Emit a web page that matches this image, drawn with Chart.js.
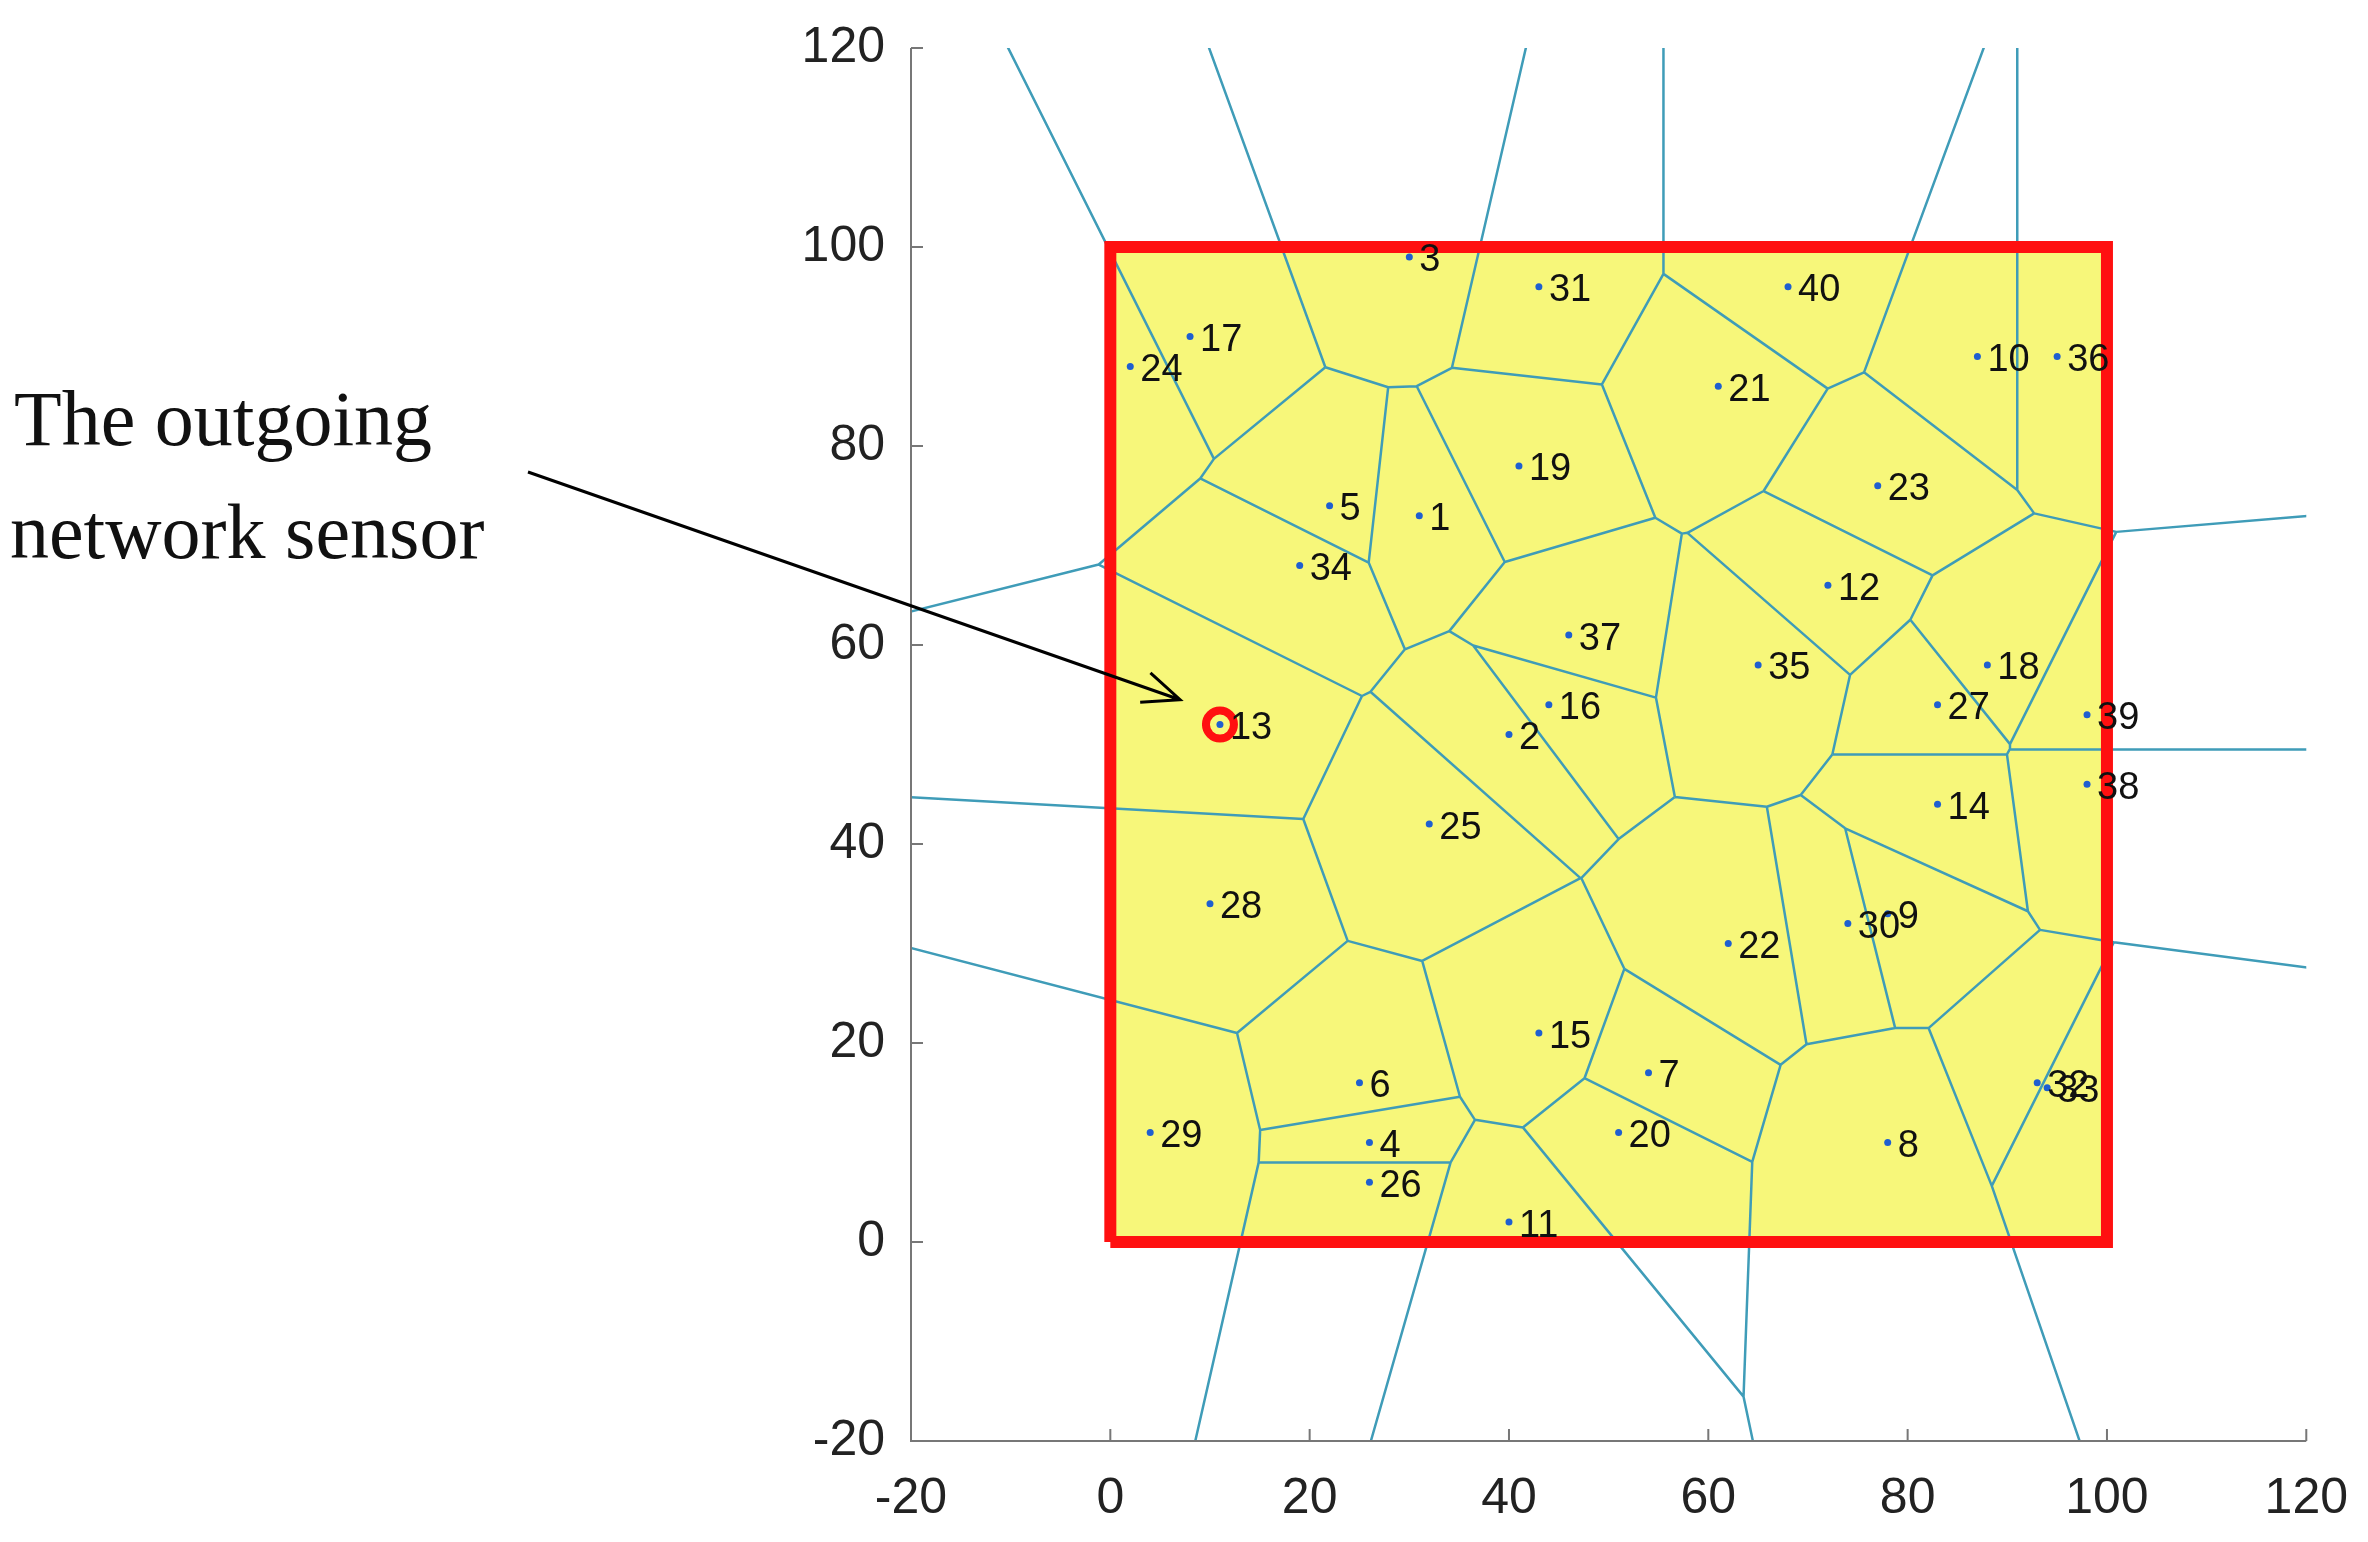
<!DOCTYPE html>
<html>
<head>
<meta charset="utf-8">
<script src="https://cdn.jsdelivr.net/npm/chart.js@4.4.1/dist/chart.umd.min.js"></script>
<style>
  html, body { margin: 0; padding: 0; background: #fff; }
  #wrap { width: 2368px; height: 1542px; }
</style>
</head>
<body>
<div id="wrap"><canvas id="chart" width="2368" height="1542"></canvas></div>
<script>
// Sensor ids and positions
const sensorIds = [1, 2, 3, 4, 5, 6, 7, 8, 9, 10, 11, 12, 13, 14, 15, 16, 17, 18, 19, 20,
                   21, 22, 23, 24, 25, 26, 27, 28, 29, 30, 31, 32, 33, 34, 35, 36, 37, 38, 39, 40];
const sensorX = [31, 40, 30, 26, 22, 25, 54, 78, 78, 87, 40, 72, 11, 83, 43, 44, 8, 88, 41, 51,
                 61, 62, 77, 2, 32, 26, 83, 10, 4, 74, 43, 93, 94, 19, 65, 95, 46, 98, 98, 68];
const sensorY = [73, 51, 99, 10, 74, 16, 17, 10, 33, 89, 2, 66, 52, 44, 21, 54, 91, 58, 78, 11,
                 86, 30, 76, 88, 42, 6, 54, 34, 11, 32, 96, 16, 15.5, 68, 58, 89, 61, 46, 53, 96];
const outgoingSensor = 13;

// Monitoring area and axes
const areaX = [0, 100, 100, 0, 0];
const areaY = [0, 0, 100, 100, 0];
const axisTicks = [-20, 0, 20, 40, 60, 80, 100, 120];

// Voronoi edges: clip a big box by the bisector half-planes of each site
function voronoiSegments() {
    const segs = [];
    const B = 1000;
    for (let i = 0; i < sensorX.length; i++) {
        // each vertex carries tag = neighbour index of the edge that starts at it
        let poly = [{ x: -B, y: -B, tag: -1 }, { x: B, y: -B, tag: -1 }, { x: B, y: B, tag: -1 }, { x: -B, y: B, tag: -1 }];
        for (let j = 0; j < sensorX.length; j++) {
            if (i === j) continue;
            const ax = sensorX[j] - sensorX[i], ay = sensorY[j] - sensorY[i];
            const c = (sensorX[j] ** 2 + sensorY[j] ** 2 - sensorX[i] ** 2 - sensorY[i] ** 2) / 2;
            const res = [];
            for (let k = 0; k < poly.length; k++) {
                const p = poly[k], q = poly[(k + 1) % poly.length];
                const dp = ax * p.x + ay * p.y - c, dq = ax * q.x + ay * q.y - c;
                if (dp <= 0) res.push(p);
                if ((dp < 0 && dq > 0) || (dp > 0 && dq < 0)) {
                    const t = dp / (dp - dq);
                    res.push({ x: p.x + t * (q.x - p.x), y: p.y + t * (q.y - p.y), tag: dp < 0 ? j : p.tag });
                }
            }
            poly = res;
        }
        for (let k = 0; k < poly.length; k++) {
            const p = poly[k], q = poly[(k + 1) % poly.length];
            if (p.tag > i) segs.push({ x: p.x, y: p.y }, { x: q.x, y: q.y }, { x: null, y: null });
        }
    }
    return segs;
}

const sensorPoints = sensorX.map((x, i) => ({ x: x, y: sensorY[i], id: sensorIds[i] }));
const areaPoints = areaX.map((x, i) => ({ x: x, y: areaY[i] }));
const outgoingPoint = sensorPoints.filter(p => p.id === outgoingSensor);

// Yellow fill of the monitoring area, inward ticks, labels, annotation arrow
const decorations = {
    id: 'decorations',
    beforeDatasetsDraw(chart) {
        const { ctx, scales: { x, y } } = chart;
        ctx.save();
        ctx.fillStyle = '#f7f77a';
        ctx.fillRect(x.getPixelForValue(0), y.getPixelForValue(100),
            x.getPixelForValue(100) - x.getPixelForValue(0), y.getPixelForValue(0) - y.getPixelForValue(100));
        ctx.restore();
    },
    afterDatasetsDraw(chart) {
        const { ctx, chartArea: a, scales: { x, y } } = chart;
        ctx.save();
        // axis lines and inward ticks
        ctx.strokeStyle = '#777';
        ctx.lineWidth = 2;
        ctx.beginPath();
        ctx.moveTo(a.left, a.top); ctx.lineTo(a.left, a.bottom); ctx.lineTo(a.right, a.bottom);
        axisTicks.forEach(v => {
            const px = x.getPixelForValue(v), py = y.getPixelForValue(v);
            ctx.moveTo(px, a.bottom); ctx.lineTo(px, a.bottom - 12);
            ctx.moveTo(a.left, py); ctx.lineTo(a.left + 12, py);
        });
        ctx.stroke();

        // sensor labels
        ctx.fillStyle = '#111';
        ctx.font = '38px "Liberation Sans", Arial, sans-serif';
        ctx.textBaseline = 'middle';
        sensorPoints.forEach(p => {
            ctx.fillText(String(p.id), x.getPixelForValue(p.x) + 10, y.getPixelForValue(p.y) + 4);
        });

        // annotation text and arrow
        ctx.font = '78px "Liberation Serif", "DejaVu Serif", serif';
        ctx.textBaseline = 'alphabetic';
        ctx.fillText('The outgoing', 14, 445);
        ctx.fillText('network sensor', 10, 558);
        const x0 = 528, y0 = 472;
        const x1 = x.getPixelForValue(7), y1 = y.getPixelForValue(54.5);
        ctx.strokeStyle = '#000';
        ctx.lineWidth = 3;
        ctx.beginPath();
        ctx.moveTo(x0, y0); ctx.lineTo(x1, y1);
        const ang = Math.atan2(y1 - y0, x1 - x0);
        ctx.moveTo(x1 - 40 * Math.cos(ang - 0.4), y1 - 40 * Math.sin(ang - 0.4));
        ctx.lineTo(x1, y1);
        ctx.lineTo(x1 - 40 * Math.cos(ang + 0.4), y1 - 40 * Math.sin(ang + 0.4));
        ctx.stroke();
        ctx.restore();
    }
};

new Chart(document.getElementById('chart'), {
    type: 'scatter',
    data: {
        datasets: [{
            label: 'Voronoi',
            data: voronoiSegments(),
            showLine: true,
            spanGaps: false,
            borderColor: '#3f9cb8',
            borderWidth: 2.5,
            pointRadius: 0,
            order: 3
        }, {
            label: 'Area',
            data: areaPoints,
            showLine: true,
            borderColor: '#ff1010',
            borderWidth: 12,
            pointRadius: 0,
            order: 2
        }, {
            label: 'Outgoing',
            data: outgoingPoint,
            pointRadius: 14,
            pointBorderWidth: 8,
            pointBorderColor: '#ff1010',
            pointBackgroundColor: 'rgba(0,0,0,0)',
            order: 1
        }, {
            label: 'Sensors',
            data: sensorPoints,
            pointRadius: 3.5,
            pointBackgroundColor: '#1f5fd0',
            pointBorderWidth: 0,
            order: 0
        }]
    },
    options: {
        responsive: false,
        animation: false,
        layout: { padding: { left: 761, top: 33, right: 56, bottom: 11 } },
        plugins: { legend: { display: false }, tooltip: { enabled: false } },
        scales: {
            x: {
                type: 'linear', min: -20, max: 120,
                afterBuildTicks: s => { s.ticks = axisTicks.map(v => ({ value: v })); },
                afterFit: s => { s.height = 90; },
                grid: { display: false },
                border: { display: false },
                ticks: { color: '#222', font: { size: 50, family: '"Liberation Sans", Arial, sans-serif' }, padding: 20 }
            },
            y: {
                type: 'linear', min: -20, max: 120,
                afterBuildTicks: s => { s.ticks = axisTicks.map(v => ({ value: v })); },
                afterFit: s => { s.width = 150; },
                grid: { display: false },
                border: { display: false },
                ticks: { color: '#222', font: { size: 50, family: '"Liberation Sans", Arial, sans-serif' }, padding: 18 }
            }
        }
    },
    plugins: [decorations]
});
</script>
</body>
</html>
